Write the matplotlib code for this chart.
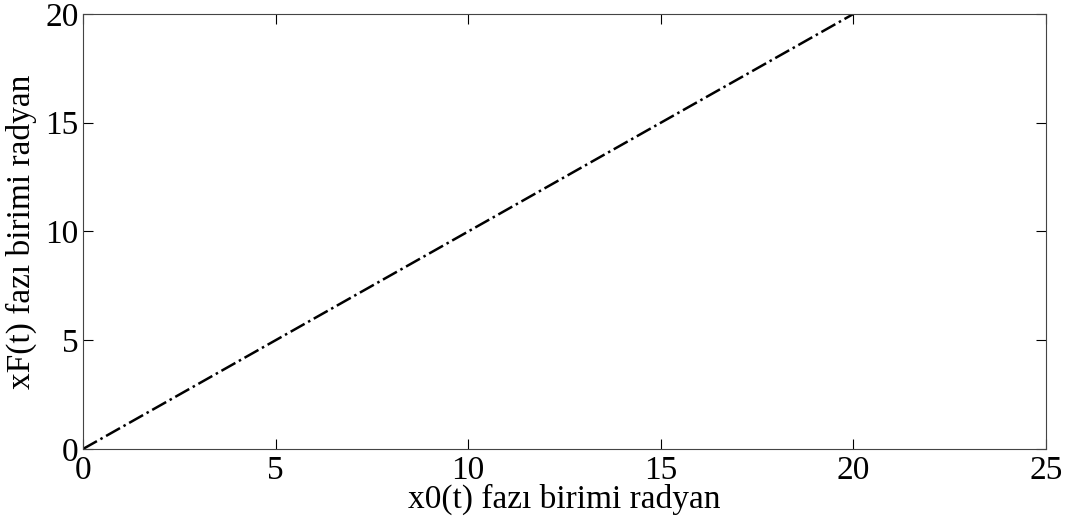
import matplotlib
matplotlib.use("Agg")
import matplotlib.pyplot as plt

# phase values (radians)
x0 = [0, 5, 10, 15, 20]
xF = [0, 5, 10, 15, 20]
x_ticks = [0, 5, 10, 15, 20, 25]
y_ticks = [0, 5, 10, 15, 20]

plt.rcParams['font.family'] = ['Liberation Serif', 'DejaVu Serif']

fig = plt.figure(figsize=(10.75, 5.26), dpi=100)
ax = fig.add_axes([0.0772, 0.1464, 0.8958, 0.827])

ax.plot(x0, xF, color='black', linestyle='-.', linewidth=1.8)

ax.set_xlim(0, 25)
ax.set_ylim(0, 20)
ax.set_xticks(x_ticks)
ax.set_yticks(y_ticks)
ax.tick_params(direction='in', top=True, right=True, labelsize=24, length=7, width=0.8)
ax.tick_params(axis='x', pad=5)
ax.tick_params(axis='y', pad=3)
for s in ax.spines.values():
    s.set_linewidth(0.8)
    s.set_color('#444444')

ax.set_xlabel('x0(t) fazı birimi radyan', fontsize=24, labelpad=-2)
ax.set_ylabel('xF(t) fazı birimi radyan', fontsize=24, labelpad=6)

fig.savefig('out.png', dpi=100)
